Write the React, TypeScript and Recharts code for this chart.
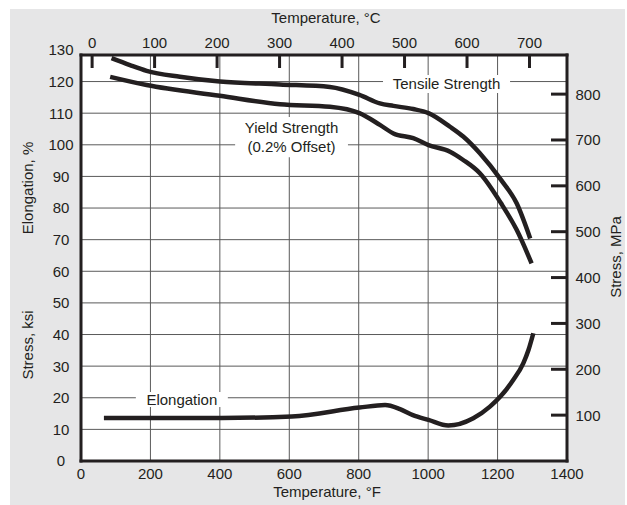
import React from 'react';
import {
  ComposedChart,
  Line,
  XAxis,
  YAxis,
  CartesianGrid,
  ReferenceArea,
  Customized,
} from 'recharts';

// ---------- data ----------
const fahrenheitTicks = [0, 200, 400, 600, 800, 1000, 1200, 1400];
const celsiusTicks = [0, 100, 200, 300, 400, 500, 600, 700];
const ksiTicks = [0, 10, 20, 30, 40, 50, 60, 70, 80, 90, 100, 110, 120, 130];
const mpaTicks = [100, 200, 300, 400, 500, 600, 700, 800];
const gridKsi = [10, 20, 30, 40, 50, 60, 70, 80, 90, 100, 110, 120];
const gridF = [200, 400, 600, 800, 1000, 1200];

// Celsius tick labels placed on the Fahrenheit scale
const celsiusTicksInF = celsiusTicks.map((c) => c * 1.8 + 32);

const tensileStrength = [
  { f: 88, ksi: 127.4 },
  { f: 141, ksi: 125.2 },
  { f: 189, ksi: 123.4 },
  { f: 285, ksi: 121.5 },
  { f: 400, ksi: 120.0 },
  { f: 573, ksi: 119.1 },
  { f: 717, ksi: 118.3 },
  { f: 802, ksi: 115.8 },
  { f: 861, ksi: 113.1 },
  { f: 900, ksi: 112.3 },
  { f: 957, ksi: 111.3 },
  { f: 1001, ksi: 110.0 },
  { f: 1063, ksi: 105.7 },
  { f: 1101, ksi: 102.6 },
  { f: 1149, ksi: 97.3 },
  { f: 1210, ksi: 88.9 },
  { f: 1255, ksi: 81.5 },
  { f: 1294, ksi: 70.4 },
];

const yieldStrength = [
  { f: 84, ksi: 121.5 },
  { f: 189, ksi: 118.9 },
  { f: 400, ksi: 115.5 },
  { f: 573, ksi: 112.8 },
  { f: 717, ksi: 112.0 },
  { f: 802, ksi: 110.0 },
  { f: 861, ksi: 106.3 },
  { f: 900, ksi: 103.6 },
  { f: 957, ksi: 102.1 },
  { f: 1001, ksi: 99.9 },
  { f: 1063, ksi: 97.8 },
  { f: 1101, ksi: 95.2 },
  { f: 1149, ksi: 91.0 },
  { f: 1210, ksi: 81.5 },
  { f: 1255, ksi: 73.1 },
  { f: 1298, ksi: 62.5 },
];

const elongation = [
  { f: 66, ksi: 13.6 },
  { f: 191, ksi: 13.6 },
  { f: 404, ksi: 13.6 },
  { f: 607, ksi: 14.1 },
  { f: 802, ksi: 16.9 },
  { f: 876, ksi: 17.7 },
  { f: 919, ksi: 16.4 },
  { f: 956, ksi: 14.5 },
  { f: 1001, ksi: 13.0 },
  { f: 1058, ksi: 11.2 },
  { f: 1130, ksi: 13.5 },
  { f: 1178, ksi: 17.2 },
  { f: 1210, ksi: 20.6 },
  { f: 1245, ksi: 25.6 },
  { f: 1274, ksi: 30.9 },
  { f: 1289, ksi: 35.1 },
  { f: 1303, ksi: 40.4 },
];

// ---------- constants ----------
const F_DOMAIN: [number, number] = [0, 1400];
const KSI_TOP = 128.4;
const KSI_TO_MPA = 6.895;

const INK = '#231f20';
const GRID = '#5a5a5a';
const BG = '#e6e6e7';
const FONT = '"Liberation Sans", Arial, Helvetica, sans-serif';
const FS = 15;

const W = 627;
const H = 505;
const MARGIN = { top: 25, right: 10, bottom: 14, left: 36 };
const PLOT_TOP = 55;
const PLOT_RIGHT = 567;

const textProps = { fontSize: FS, fontFamily: FONT, fill: INK };

const LeftTick = (p: any) => (
  <text x={61} y={p.y} dy="0.36em" textAnchor="middle" {...textProps}>
    {p.payload.value}
  </text>
);

const BottomTick = (p: any) => (
  <text x={p.x} y={474} dy="0.36em" textAnchor="middle" {...textProps}>
    {p.payload.value}
  </text>
);

const TopTick = (p: any) => (
  <g>
    <line x1={p.x} x2={p.x} y1={PLOT_TOP} y2={PLOT_TOP + 13} stroke={INK} strokeWidth={3} />
    <text x={p.x} y={43} dy="0.36em" textAnchor="middle" {...textProps}>
      {Math.round((p.payload.value - 32) / 1.8)}
    </text>
  </g>
);

const RightTick = (p: any) => (
  <g>
    <line x1={PLOT_RIGHT - 16} x2={PLOT_RIGHT} y1={p.y} y2={p.y} stroke={INK} strokeWidth={3} />
    <text x={588} y={p.y} dy="0.36em" textAnchor="middle" {...textProps}>
      {p.payload.value}
    </text>
  </g>
);

const CenterLabel = (lines: string[], gap: number) => (p: any) => {
  const vb = p.viewBox || {};
  const cx = vb.x + vb.width / 2;
  const cy = vb.y + vb.height / 2;
  const start = cy - ((lines.length - 1) * gap) / 2;
  return (
    <text textAnchor="middle" {...textProps}>
      {lines.map((l, i) => (
        <tspan key={i} x={cx} y={start + i * gap} dy="0.36em">
          {l}
        </tspan>
      ))}
    </text>
  );
};

const Titles = () => (
  <g>
    <text x={326} y={18} dy="0.36em" textAnchor="middle" {...textProps}>
      Temperature, °C
    </text>
    <text x={327} y={492} dy="0.36em" textAnchor="middle" {...textProps}>
      Temperature, °F
    </text>
    <text x={28} y={188} dy="0.36em" textAnchor="middle" transform="rotate(-90 28 188)" {...textProps}>
      Elongation, %
    </text>
    <text x={28} y={345} dy="0.36em" textAnchor="middle" transform="rotate(-90 28 345)" {...textProps}>
      Stress, ksi
    </text>
    <text x={616} y={257} dy="0.36em" textAnchor="middle" transform="rotate(-90 616 257)" {...textProps}>
      Stress, MPa
    </text>
  </g>
);

const frameLine = { stroke: INK, strokeWidth: 3, strokeLinecap: 'square' } as any;

export default function App() {
  return (
    <div style={{ position: 'absolute', left: 0, top: 0, width: W, height: H }}>
      <div
        style={{ position: 'absolute', left: 10, top: 9, width: 615, height: 496, background: BG }}
      />
      <div style={{ position: 'absolute', left: 0, top: 0 }}>
        <ComposedChart width={W} height={H} margin={MARGIN}>
          <CartesianGrid
            xAxisId="f"
            yAxisId="ksi"
            stroke={GRID}
            strokeWidth={1}
            fill="#ffffff"
            fillOpacity={1}
            horizontalValues={gridKsi}
            verticalValues={gridF}
          />
          <XAxis
            xAxisId="f"
            dataKey="f"
            type="number"
            orientation="bottom"
            domain={F_DOMAIN}
            ticks={fahrenheitTicks}
            interval={0}
            allowDataOverflow
            height={30}
            tickLine={false}
            axisLine={frameLine}
            tick={<BottomTick />}
          />
          <XAxis
            xAxisId="ftop"
            dataKey="f"
            type="number"
            orientation="top"
            domain={F_DOMAIN}
            ticks={celsiusTicksInF}
            interval={0}
            allowDataOverflow
            height={30}
            tickLine={false}
            axisLine={frameLine}
            tick={<TopTick />}
          />
          <YAxis
            yAxisId="ksi"
            type="number"
            orientation="left"
            domain={[0, KSI_TOP]}
            ticks={ksiTicks}
            interval={0}
            allowDataOverflow
            width={45}
            tickLine={false}
            axisLine={frameLine}
            tick={<LeftTick />}
          />
          <YAxis
            yAxisId="mpa"
            type="number"
            orientation="right"
            domain={[0, KSI_TOP * KSI_TO_MPA]}
            ticks={mpaTicks}
            interval={0}
            allowDataOverflow
            width={50}
            tickLine={false}
            axisLine={frameLine}
            tick={<RightTick />}
          />
          <ReferenceArea
            xAxisId="f"
            yAxisId="ksi"
            x1={870}
            x2={1236}
            y1={116.4}
            y2={122.1}
            fill="#ffffff"
            fillOpacity={1}
            stroke="none"
            label={CenterLabel(['Tensile Strength'], 0)}
          />
          <ReferenceArea
            xAxisId="f"
            yAxisId="ksi"
            x1={444}
            x2={769}
            y1={96.1}
            y2={108.8}
            fill="#ffffff"
            fillOpacity={1}
            stroke="none"
            label={CenterLabel(['Yield Strength', '(0.2% Offset)'], 18.3)}
          />
          <ReferenceArea
            xAxisId="f"
            yAxisId="ksi"
            x1={158}
            x2={423}
            y1={17.1}
            y2={21.8}
            fill="#ffffff"
            fillOpacity={1}
            stroke="none"
            label={CenterLabel(['Elongation'], 0)}
          />
          <Line
            xAxisId="f"
            yAxisId="ksi"
            data={tensileStrength}
            dataKey="ksi"
            type="monotone"
            stroke={INK}
            strokeWidth={4.5}
            dot={false}
            activeDot={false}
            isAnimationActive={false}
          />
          <Line
            xAxisId="f"
            yAxisId="ksi"
            data={yieldStrength}
            dataKey="ksi"
            type="monotone"
            stroke={INK}
            strokeWidth={4.5}
            dot={false}
            activeDot={false}
            isAnimationActive={false}
          />
          <Line
            xAxisId="ftop"
            yAxisId="ksi"
            data={elongation}
            dataKey="ksi"
            type="monotone"
            stroke={INK}
            strokeWidth={4.5}
            dot={false}
            activeDot={false}
            isAnimationActive={false}
          />
          <Customized component={<Titles />} />
        </ComposedChart>
      </div>
    </div>
  );
}
